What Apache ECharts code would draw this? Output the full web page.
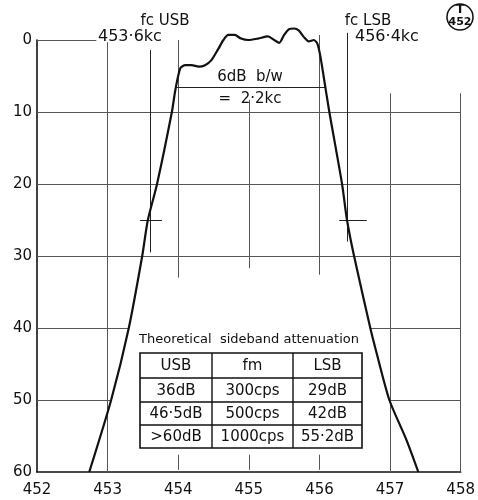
<!DOCTYPE html>
<html><head><meta charset="utf-8">
<script src="https://cdn.jsdelivr.net/npm/echarts@6/dist/echarts.min.js"></script>
<style>html,body{margin:0;padding:0;background:#fff}#c{width:478px;height:500px}</style>
</head><body><div id="c"></div>
<script>
// ---- data ----
const xTicks = [452, 453, 454, 455, 456, 457, 458];
const yTicks = [0, 10, 20, 30, 40, 50, 60];
const curveFreq = [452.74, 453.05, 453.30, 453.49, 453.57, 453.70, 453.91, 453.96, 454.03, 454.10, 454.19, 454.29, 454.38, 454.47, 454.57, 454.64, 454.71, 454.80, 454.89, 454.99, 455.13, 455.27, 455.36, 455.43, 455.50, 455.57, 455.64, 455.71, 455.78, 455.85, 455.92, 455.97, 456.01, 456.06, 456.14, 456.32, 456.39, 456.49, 456.72, 456.81, 456.99, 457.23, 457.40];
const curveAtten = [60, 50, 40, 30, 25, 20, 10, 6.9, 3.9, 3.5, 3.5, 3.7, 3.5, 2.8, 1.2, 0, -0.7, -0.7, -0.2, 0, -0.2, -0.5, 0, 0.4, -0.7, -1.5, -1.6, -1.3, -0.4, 0.2, 0, 0.5, 2.1, 5.1, 10, 20, 25, 30, 40, 43.5, 50, 55.5, 60];
// horizontal grid segments [xFrom, xTo, dB]
const gridH = [[452, 452.84, 0], [452, 458, 10], [452, 458, 20], [452, 458, 30], [452, 453.3, 40], [456.72, 458, 40], [452, 453.05, 50], [456.99, 458, 50]];
// vertical grid segments [freq, dBFrom, dBTo]
const gridV = [[453, 0.3, 60], [454, 0, 33], [454, 57.6, 59.7], [455, 8.3, 31.7], [455, 57.6, 59.7], [456, -0.7, 32.6], [456, 57.6, 59.7], [457, 7.4, 60], [458, 7.4, 60]];
// carrier markers [freq, dBFrom, dBTo]
const fcLines = [[453.6, 1.4, 29.5], [456.4, -1, 28]];
const fcTicks = [[453.46, 453.77, 25], [456.28, 456.67, 25]];
const bwLine = [[453.98, 456.08, 6.5]];
const fcLabels = ['fc USB', 'fc LSB'];
const fcFreqLabels = ['453·6kc', '456·4kc'];
const bwLabels = ['6dB  b/w', '=  2·2kc'];
const tableTitle = 'Theoretical  sideband attenuation';
const tableHeader = ['USB', 'fm', 'LSB'];
const tableUSB = ['36dB', '46·5dB', '>60dB'];
const tableFm = ['300cps', '500cps', '1000cps'];
const tableLSB = ['29dB', '42dB', '55·2dB'];

// ---- build ----
const font = '"DejaVu Sans", sans-serif';
const segs = [];
gridH.forEach(s => segs.push({coords: [[s[0], s[2]], [s[1], s[2]]]}));
gridV.forEach(s => segs.push({coords: [[s[0], s[1]], [s[0], s[2]]]}));
const marks = [];
fcLines.forEach(s => marks.push({coords: [[s[0], s[1]], [s[0], s[2]]]}));
fcTicks.forEach(s => marks.push({coords: [[s[0], s[2]], [s[1], s[2]]]}));
bwLine.forEach(s => marks.push({coords: [[s[0], s[2]], [s[1], s[2]]]}));

// table graphics
const tX = [140, 212, 293, 362];
const tY = [353, 378, 402, 425, 448];
const tg = [];
tg.push({type: 'rect', shape: {x: tX[0], y: tY[0], width: tX[3] - tX[0], height: tY[4] - tY[0]},
  style: {fill: '#fff', stroke: '#111', lineWidth: 1.6}, z: 10});
for (let i = 1; i < 4; i++) tg.push({type: 'line', shape: {x1: tX[0], y1: tY[i], x2: tX[3], y2: tY[i]}, style: {stroke: '#111', lineWidth: 1.4}, z: 11});
for (let j = 1; j < 3; j++) tg.push({type: 'line', shape: {x1: tX[j], y1: tY[0], x2: tX[j], y2: tY[4]}, style: {stroke: '#111', lineWidth: 1.4}, z: 11});
const cols = [tableUSB, tableFm, tableLSB];
for (let j = 0; j < 3; j++) {
  const cx = (tX[j] + tX[j + 1]) / 2;
  tg.push({type: 'text', x: cx, y: (tY[0] + tY[1]) / 2 + 1, z: 12,
    style: {text: tableHeader[j], font: '15px ' + font, fill: '#111', textAlign: 'center', textVerticalAlign: 'middle'}});
  for (let i = 0; i < 3; i++) {
    tg.push({type: 'text', x: cx, y: (tY[i + 1] + tY[i + 2]) / 2 + 1, z: 12,
      style: {text: cols[j][i], font: '15px ' + font, fill: '#111', textAlign: 'center', textVerticalAlign: 'middle'}});
  }
}
tg.push({type: 'text', x: 249, y: 340, z: 12,
  style: {text: tableTitle, font: '13px ' + font, fill: '#111', textAlign: 'center', textVerticalAlign: 'middle'}});

const txt = (t, x, y, size, align, weight) => ({type: 'text', x: x, y: y, z: 12,
  style: {text: t, font: (weight || 'normal') + ' ' + size + 'px ' + font, fill: '#111', textAlign: align || 'left', textVerticalAlign: 'middle'}});
const annot = [
  txt(fcLabels[0], 165, 21, 15, 'center'),
  txt(fcFreqLabels[0], 98, 37, 16),
  txt(fcLabels[1], 368, 21, 15, 'center'),
  txt(fcFreqLabels[1], 355, 37, 16),
  txt(bwLabels[0], 250, 77, 15, 'center'),
  txt(bwLabels[1], 250, 99, 15, 'center'),
  {type: 'circle', shape: {cx: 460, cy: 17, r: 13}, style: {fill: 'none', stroke: '#111', lineWidth: 1.5}, z: 12},
  txt('T', 460, 10, 12, 'center', 'bold'),
  txt('452', 460, 22, 11, 'center', 'bold')
];

const chart = echarts.init(document.getElementById('c'), null, {renderer: 'canvas'});
chart.setOption({
  animation: false,
  backgroundColor: '#fff',
  grid: {left: 37, right: 13, top: 40, bottom: 28},
  xAxis: {type: 'value', min: xTicks[0], max: xTicks[xTicks.length - 1], interval: 1,
    axisLine: {show: true, onZero: false, lineStyle: {color: '#111', width: 1.6}},
    axisTick: {show: false}, splitLine: {show: false},
    axisLabel: {margin: 11, fontSize: 15, fontFamily: font, color: '#111'}},
  yAxis: {type: 'value', inverse: true, min: yTicks[0], max: yTicks[yTicks.length - 1], interval: 10,
    axisLine: {show: true, onZero: false, lineStyle: {color: '#111', width: 1.6}},
    axisTick: {show: false}, splitLine: {show: false},
    axisLabel: {margin: 5, fontSize: 15, fontFamily: font, color: '#111'}},
  series: [
    {type: 'lines', coordinateSystem: 'cartesian2d', clip: false, silent: true, z: 1,
      lineStyle: {color: '#555', width: 1, opacity: 1}, data: segs},
    {type: 'lines', coordinateSystem: 'cartesian2d', clip: false, silent: true, z: 2,
      lineStyle: {color: '#222', width: 1, opacity: 1}, data: marks},
    {type: 'line', clip: false, showSymbol: false, smooth: 0.25, z: 5,
      lineStyle: {color: '#111', width: 2.2},
      data: curveFreq.map((f, i) => [f, curveAtten[i]])}
  ],
  graphic: tg.concat(annot)
});
</script></body></html>
